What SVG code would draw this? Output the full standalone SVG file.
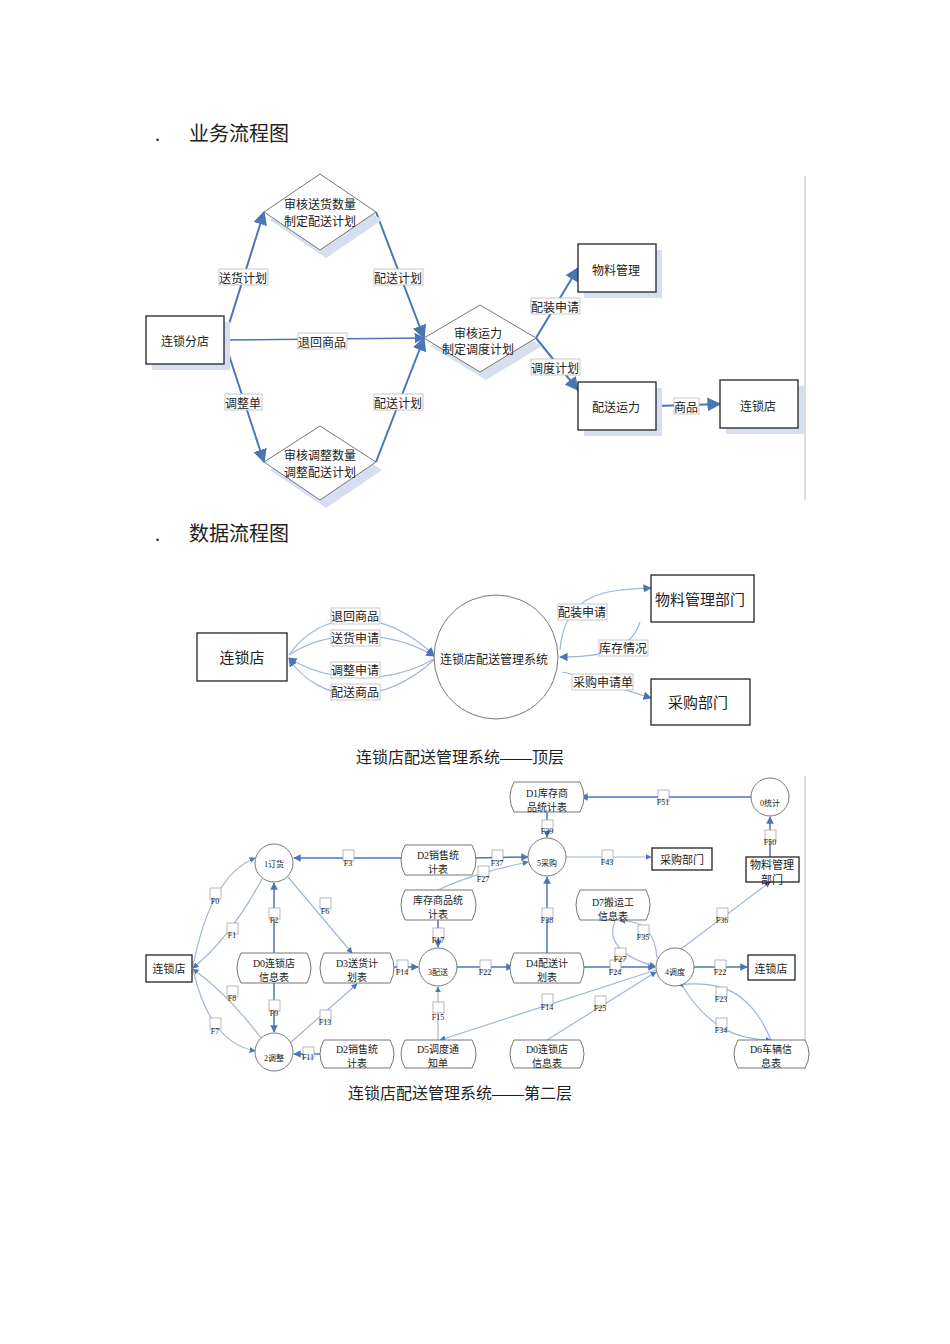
<svg xmlns="http://www.w3.org/2000/svg" width="950" height="1344" viewBox="0 0 950 1344">
<style>
text{font-family:"Liberation Serif","Noto Sans CJK SC",serif;fill:#222;text-anchor:middle}
.h{font-size:20px;text-anchor:start}
.cap{font-size:16px}
.n{fill:#fff;stroke:#222;stroke-width:1.3}
.sh{fill:#d6dff0}
.dm{fill:#fff;stroke:#777;stroke-width:1}
.c{fill:#fff;stroke:#777;stroke-width:1}
.e{fill:none;stroke:#4a76b8;stroke-width:2}
.e2{fill:none;stroke:#4a76b8;stroke-width:1.5}
.l{fill:none;stroke:#9fb6db;stroke-width:1.2}
.lb{fill:#fff;stroke:#bbb;stroke-width:0.8}
.t12{font-size:12px}
.t11{font-size:11px}
.t10{font-size:10px}
.t8{font-size:8px}
.fb{fill:#fff;stroke:#999;stroke-width:0.7}
</style>
<defs>
<marker id="a" viewBox="0 0 10 10" refX="9" refY="5" markerWidth="7" markerHeight="7" orient="auto"><path d="M0,0 L10,5 L0,10 z" fill="#4a76b8"/></marker>
<marker id="s" viewBox="0 0 10 10" refX="9" refY="5" markerWidth="5" markerHeight="5" orient="auto"><path d="M0,0 L10,5 L0,10 z" fill="#4a76b8"/></marker>
</defs>
<rect width="950" height="1344" fill="#fff"/>
<text class="h" x="155" y="141">.</text><text class="h" x="189" y="141">业务流程图</text>
<text class="h" x="155" y="541">.</text><text class="h" x="189" y="541">数据流程图</text>
<line x1="805" y1="176" x2="805" y2="500" stroke="#bbb"/>
<line x1="805" y1="776" x2="805" y2="1070" stroke="#bbb"/>

<!-- top business flow -->
<g id="connectors1">
<path class="e" d="M224,340 L264,212" marker-end="url(#a)"/>
<path class="e" d="M376,212 L424,338" marker-end="url(#a)"/>
<path class="e2" d="M224,340 L424,338" marker-end="url(#a)"/>
<path class="e" d="M224,340 L264,462" marker-end="url(#a)"/>
<path class="e" d="M376,462 L424,338" marker-end="url(#a)"/>
<path class="e" d="M536,338 L578,268" marker-end="url(#a)"/>
<path class="e" d="M536,338 L578,390" marker-end="url(#a)"/>
<path class="e" d="M656,406 L720,404" marker-end="url(#a)"/>
<g class="t12">
<rect class="lb" x="219" y="269" width="49" height="16"/><text x="243" y="283">送货计划</text>
<rect class="lb" x="374" y="269" width="49" height="16"/><text x="398" y="283">配送计划</text>
<rect class="lb" x="298" y="333" width="49" height="16"/><text x="322" y="347">退回商品</text>
<rect class="lb" x="225" y="394" width="37" height="16"/><text x="243" y="408">调整单</text>
<rect class="lb" x="374" y="394" width="49" height="16"/><text x="398" y="408">配送计划</text>
<rect class="lb" x="531" y="298" width="49" height="16"/><text x="555" y="312">配装申请</text>
<rect class="lb" x="531" y="359" width="49" height="16"/><text x="555" y="373">调度计划</text>
<rect class="lb" x="674" y="398" width="25" height="16"/><text x="686" y="412">商品</text>
</g>
</g>
<g id="n-fendian"><rect class="sh" x="152" y="322" width="78" height="48"/><rect class="n" x="146" y="316" width="78" height="48"/><text class="t12" x="185" y="346">连锁分店</text></g>
<g id="n-d1"><path class="sh" d="M326,182 L382,220 L326,258 L270,220z"/><path class="dm" d="M320,174 L376,212 L320,250 L264,212z"/><text class="t12" x="320" y="209">审核送货数量</text><text class="t12" x="320" y="226">制定配送计划</text></g>
<g id="n-d2"><path class="sh" d="M326,434 L382,470 L326,508 L270,470z"/><path class="dm" d="M320,426 L376,462 L320,500 L264,462z"/><text class="t12" x="320" y="460">审核调整数量</text><text class="t12" x="320" y="477">调整配送计划</text></g>
<g id="n-d3"><path class="sh" d="M486,313 L542,346 L486,380 L430,346z"/><path class="dm" d="M480,305 L536,338 L480,372 L424,338z"/><text class="t12" x="478" y="338">审核运力</text><text class="t12" x="478" y="354">制定调度计划</text></g>
<g id="n-wuliao"><rect class="sh" x="584" y="250" width="78" height="48"/><rect class="n" x="578" y="244" width="78" height="48"/><text class="t12" x="616" y="275">物料管理</text></g>
<g id="n-yunli"><rect class="sh" x="584" y="388" width="78" height="48"/><rect class="n" x="578" y="382" width="78" height="48"/><text class="t12" x="616" y="412">配送运力</text></g>
<g id="n-lsd1"><rect class="sh" x="726" y="386" width="78" height="48"/><rect class="n" x="720" y="380" width="78" height="48"/><text class="t12" x="758" y="411">连锁店</text></g>

<!-- top-level DFD -->
<g id="connectors2">
<path class="l" d="M289,655 C320,610 380,605 434,655" marker-end="url(#a)"/>
<path class="l" d="M289,655 C330,628 390,630 434,656" marker-end="url(#a)"/>
<path class="l" d="M434,659 C390,684 330,684 289,658" marker-end="url(#a)"/>
<path class="l" d="M434,660 C380,708 320,704 289,659" marker-end="url(#a)"/>
<path class="l" d="M560,650 C565,590 610,590 651,588" marker-end="url(#a)"/>
<path class="l" d="M640,622 C630,655 590,657 560,657" marker-end="url(#a)"/>
<path class="l" d="M562,672 C590,678 625,690 651,698" marker-end="url(#a)"/>
<g class="t12">
<rect class="lb" x="331" y="608" width="49" height="16"/><text x="355" y="621">退回商品</text>
<rect class="lb" x="331" y="630" width="49" height="16"/><text x="355" y="643">送货申请</text>
<rect class="lb" x="331" y="662" width="49" height="16"/><text x="355" y="675">调整申请</text>
<rect class="lb" x="331" y="684" width="49" height="16"/><text x="355" y="697">配送商品</text>
<rect class="lb" x="558" y="604" width="49" height="16"/><text x="582" y="617">配装申请</text>
<rect class="lb" x="599" y="640" width="49" height="16"/><text x="623" y="653">库存情况</text>
<rect class="lb" x="572" y="674" width="61" height="16"/><text x="603" y="687">采购申请单</text>
</g>
</g>
<g id="t-lsd"><rect class="n" x="197" y="633" width="90" height="48"/><text x="242" y="663" style="font-size:15px">连锁店</text></g>
<g id="t-sys"><circle class="c" cx="496" cy="657" r="62"/><text class="t12" x="494" y="664">连锁店配送管理系统</text></g>
<g id="t-wl"><rect class="n" x="651" y="575" width="103" height="47"/><text x="700" y="605" style="font-size:15px">物料管理部门</text></g>
<g id="t-cg"><rect class="n" x="651" y="679" width="99" height="46"/><text x="698" y="708" style="font-size:15px">采购部门</text></g>
<text class="cap" x="460" y="763">连锁店配送管理系统——顶层</text>

<!-- second level DFD -->
<g id="connectors3">
<path class="e2" d="M405,858 L294,858" marker-end="url(#s)"/>
<path class="e2" d="M472,858 L528,857" marker-end="url(#s)"/>
<path class="l" d="M438,890 C470,875 500,868 528,862" marker-end="url(#s)"/>
<path class="e2" d="M547,812 L547,837" marker-end="url(#s)"/>
<path class="e2" d="M751,797 L581,797" marker-end="url(#s)"/>
<path class="e2" d="M770,857 L770,817" marker-end="url(#s)"/>
<path class="l" d="M566,857 L651,857" marker-end="url(#s)"/>
<path class="e2" d="M547,953 L547,877" marker-end="url(#s)"/>
<path class="e2" d="M274,953 L274,883" marker-end="url(#s)"/>
<path class="e2" d="M274,983 L274,1032" marker-end="url(#s)"/>
<path class="l" d="M288,877 L352,953" marker-end="url(#s)"/>
<path class="l" d="M290,1043 L357,984" marker-end="url(#s)"/>
<path class="e2" d="M324,1054 L294,1054" marker-end="url(#s)"/>
<path class="l" d="M193,966 C205,905 225,870 255,858" marker-end="url(#s)"/>
<path class="l" d="M262,879 C240,920 215,950 193,968" marker-end="url(#s)"/>
<path class="l" d="M261,1038 C240,1010 215,985 193,969" marker-end="url(#s)"/>
<path class="l" d="M193,970 C205,1020 225,1045 255,1051" marker-end="url(#s)"/>
<path class="e2" d="M390,967 L418,967" marker-end="url(#s)"/>
<path class="e2" d="M438,920 L438,947" marker-end="url(#s)"/>
<path class="l" d="M438,1040 L438,987" marker-end="url(#s)"/>
<path class="e2" d="M457,967 L513,967" marker-end="url(#s)"/>
<path class="e2" d="M580,967 L655,967" marker-end="url(#s)"/>
<path class="l" d="M615,921 C605,945 630,960 655,966" marker-end="url(#s)"/>
<path class="l" d="M657,958 C655,930 640,920 620,921" marker-end="url(#s)"/>
<path class="l" d="M656,970 L440,1040" marker-end="url(#s)"/>
<path class="l" d="M547,1040 L656,972" marker-end="url(#s)"/>
<path class="l" d="M681,949 L770,882" marker-end="url(#s)"/>
<path class="e2" d="M694,967 L747,967" marker-end="url(#s)"/>
<path class="l" d="M771,1040 C750,990 720,980 678,985" marker-end="url(#s)"/>
<path class="l" d="M683,987 C710,1030 740,1040 771,1040" marker-end="url(#s)"/>
<g class="t8">
<rect class="fb" x="343" y="850" width="11" height="11"/><text x="348" y="866">F3</text>
<rect class="fb" x="492" y="850" width="11" height="11"/><text x="497" y="866">F37</text>
<rect class="fb" x="478" y="866" width="11" height="11"/><text x="483" y="882">F27</text>
<rect class="fb" x="542" y="820" width="11" height="11"/><text x="547" y="834">F39</text>
<rect class="fb" x="658" y="790" width="11" height="11"/><text x="663" y="805">F51</text>
<rect class="fb" x="765" y="830" width="11" height="11"/><text x="770" y="845">F50</text>
<rect class="fb" x="602" y="850" width="11" height="11"/><text x="607" y="865">F43</text>
<rect class="fb" x="542" y="908" width="11" height="11"/><text x="547" y="923">F38</text>
<rect class="fb" x="269" y="908" width="11" height="11"/><text x="274" y="923">F2</text>
<rect class="fb" x="269" y="1000" width="11" height="11"/><text x="274" y="1016">F9</text>
<rect class="fb" x="320" y="898" width="11" height="11"/><text x="325" y="914">F6</text>
<rect class="fb" x="320" y="1010" width="11" height="11"/><text x="325" y="1025">F13</text>
<rect class="fb" x="303" y="1047" width="11" height="11"/><text x="308" y="1060">F11</text>
<rect class="fb" x="210" y="888" width="11" height="11"/><text x="215" y="904">F0</text>
<rect class="fb" x="227" y="923" width="11" height="11"/><text x="232" y="938">F1</text>
<rect class="fb" x="227" y="986" width="11" height="11"/><text x="232" y="1001">F8</text>
<rect class="fb" x="210" y="1018" width="11" height="11"/><text x="215" y="1034">F7</text>
<rect class="fb" x="397" y="960" width="11" height="11"/><text x="402" y="975">F14</text>
<rect class="fb" x="433" y="928" width="11" height="11"/><text x="438" y="943">F17</text>
<rect class="fb" x="433" y="1002" width="11" height="11"/><text x="438" y="1020">F15</text>
<rect class="fb" x="480" y="960" width="11" height="11"/><text x="485" y="975">F22</text>
<rect class="fb" x="610" y="960" width="11" height="11"/><text x="615" y="975">F24</text>
<rect class="fb" x="615" y="948" width="11" height="11"/><text x="620" y="962">F27</text>
<rect class="fb" x="638" y="925" width="11" height="11"/><text x="643" y="940">F35</text>
<rect class="fb" x="542" y="994" width="11" height="11"/><text x="547" y="1010">F14</text>
<rect class="fb" x="595" y="996" width="11" height="11"/><text x="600" y="1011">F25</text>
<rect class="fb" x="717" y="908" width="11" height="11"/><text x="722" y="923">F36</text>
<rect class="fb" x="715" y="960" width="11" height="11"/><text x="720" y="975">F22</text>
<rect class="fb" x="716" y="987" width="11" height="11"/><text x="721" y="1002">F23</text>
<rect class="fb" x="716" y="1018" width="11" height="11"/><text x="721" y="1033">F34</text>
</g>
</g>
<g id="s-lsd"><rect class="n" x="146" y="955" width="46" height="27"/><text class="t11" x="169" y="973">连锁店</text></g>
<g id="p1"><circle class="c" cx="274" cy="863" r="19"/><text class="t8" x="274" y="867">1订货</text></g>
<g id="p2"><circle class="c" cx="274" cy="1052" r="19"/><text class="t8" x="274" y="1061">2调整</text></g>
<g id="p3"><circle class="c" cx="438" cy="967" r="19"/><text class="t8" x="438" y="975">3配送</text></g>
<g id="p4"><circle class="c" cx="675" cy="967" r="19"/><text class="t8" x="675" y="975">4调度</text></g>
<g id="p5"><circle class="c" cx="547" cy="857" r="19"/><text class="t8" x="547" y="866">5采购</text></g>
<g id="p0"><circle class="c" cx="770" cy="797" r="19"/><text class="t8" x="770" y="806">0统计</text></g>
<g id="s-cg"><rect class="n" x="652" y="848" width="60" height="22"/><text class="t11" x="682" y="864">采购部门</text></g>
<g id="s-wl"><rect class="n" x="746" y="857" width="53" height="25"/><text class="t11" x="772" y="869">物料管理</text><text class="t11" x="772" y="884">部门</text></g>
<g id="s-lsd2"><rect class="n" x="748" y="955" width="47" height="25"/><text class="t11" x="771" y="973">连锁店</text></g>
<g class="t10">
<g id="ds-d2a"><path class="c" d="M405,845 L472,845 Q480,860 472,875 L405,875 Q397,860 405,845z"/><text x="438" y="859">D2销售统</text><text x="438" y="873">计表</text></g>
<g id="ds-kc"><path class="c" d="M405,890 L472,890 Q480,905 472,920 L405,920 Q397,905 405,890z"/><text x="438" y="904">库存商品统</text><text x="438" y="918">计表</text></g>
<g id="ds-d1"><path class="c" d="M514,782 L580,782 Q588,797 580,812 L514,812 Q506,797 514,782z"/><text x="547" y="797">D1库存商</text><text x="547" y="811">品统计表</text></g>
<g id="ds-d7"><path class="c" d="M580,890 L646,890 Q654,905 646,920 L580,920 Q572,905 580,890z"/><text x="613" y="906">D7搬运工</text><text x="613" y="920">信息表</text></g>
<g id="ds-d0a"><path class="c" d="M241,953 L307,953 Q315,968 307,983 L241,983 Q233,968 241,953z"/><text x="274" y="967">D0连锁店</text><text x="274" y="981">信息表</text></g>
<g id="ds-d3"><path class="c" d="M324,953 L390,953 Q398,968 390,983 L324,983 Q316,968 324,953z"/><text x="357" y="967">D3送货计</text><text x="357" y="981">划表</text></g>
<g id="ds-d4"><path class="c" d="M514,953 L580,953 Q588,968 580,983 L514,983 Q506,968 514,953z"/><text x="547" y="967">D4配送计</text><text x="547" y="981">划表</text></g>
<g id="ds-d2b"><path class="c" d="M324,1040 L390,1040 Q398,1054 390,1068 L324,1068 Q316,1054 324,1040z"/><text x="357" y="1053">D2销售统</text><text x="357" y="1067">计表</text></g>
<g id="ds-d5"><path class="c" d="M405,1040 L472,1040 Q480,1054 472,1068 L405,1068 Q397,1054 405,1040z"/><text x="438" y="1053">D5调度通</text><text x="438" y="1067">知单</text></g>
<g id="ds-d0b"><path class="c" d="M514,1040 L580,1040 Q588,1054 580,1068 L514,1068 Q506,1054 514,1040z"/><text x="547" y="1053">D0连锁店</text><text x="547" y="1067">信息表</text></g>
<g id="ds-d6"><path class="c" d="M738,1040 L805,1040 Q813,1054 805,1068 L738,1068 Q730,1054 738,1040z"/><text x="771" y="1053">D6车辆信</text><text x="771" y="1067">息表</text></g>
</g>
<text class="cap" x="460" y="1099">连锁店配送管理系统——第二层</text>
</svg>
